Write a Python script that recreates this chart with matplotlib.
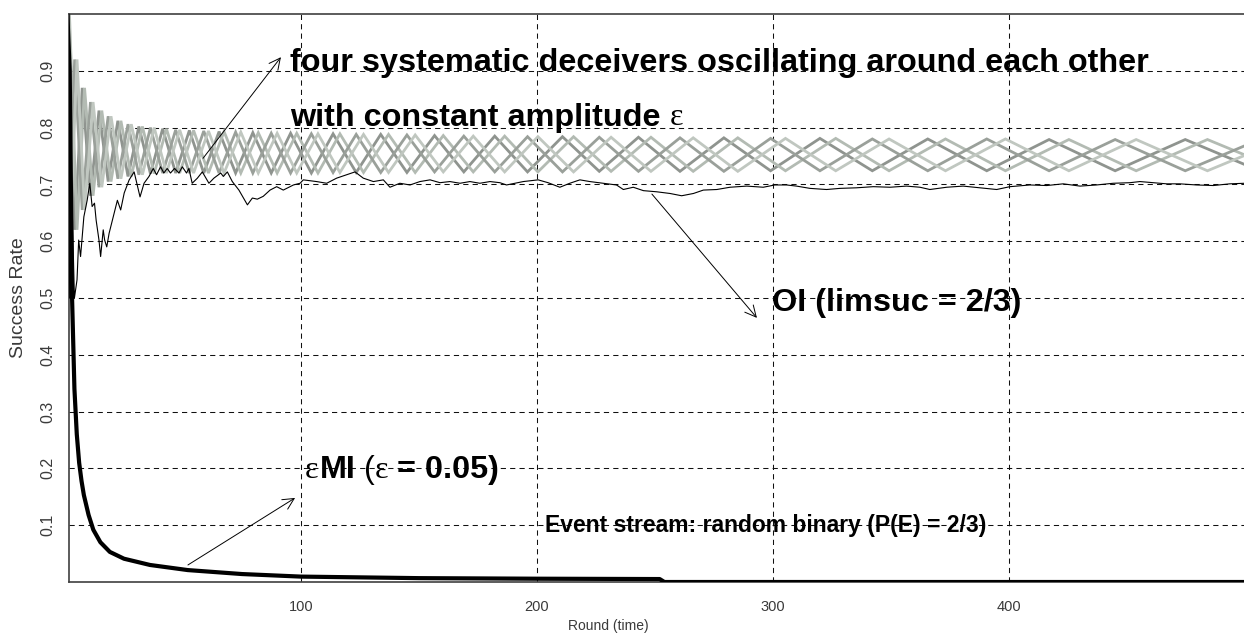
# Import required libraries
import matplotlib
matplotlib.use("Agg")
import matplotlib.pyplot as plt
from matplotlib import font_manager

# ------------------------------------------------------------
# Data
# ------------------------------------------------------------

# eMI (epsilon = 0.05): thick black curve
emi_rounds = [1, 2, 3, 4, 5, 6, 7, 8, 10, 12, 15, 19, 25, 36, 52, 75, 100,
              150, 200, 252, 254, 500]
emi_rate = [1.0, 0.9, 0.5, 0.34, 0.26, 0.21, 0.178, 0.153, 0.118, 0.092,
            0.07, 0.053, 0.041, 0.03, 0.021, 0.014, 0.0095, 0.0068, 0.0058,
            0.0052, 0.0, 0.0]

# OI (limsuc = 2/3): thin black curve
oi_rounds = [1, 2, 3, 4, 5.1, 5.8, 6.6, 8, 9.4, 10.5,
             11.5, 12.5, 13.2, 14.4, 15.1, 16.2, 16.8, 17.7, 18.7, 20.1,
             22.2, 23.6, 25.1, 27.2, 29.3, 31.8, 33.5, 35.6, 37.4, 38.8,
             40.5, 41.9, 43.3, 44.7, 46.4, 48.3, 49.7, 51.5, 52.5, 53.9,
             56.1, 58.2, 61, 63.1, 66, 67.1, 68.8, 70.9, 73.7, 77.3,
             79.4, 81.5, 84, 86.9, 89.7, 92.5, 96.8, 99.6, 101, 106.6,
             110.9, 115.1, 119.4, 122.9, 126.4, 130.7, 134.9, 137.7, 141.9, 146.2,
             150.4, 154.7, 158.9, 163.1, 167.4, 171.6, 175.8, 180.1, 184.3, 187.1,
             194.2, 200.5, 204.7, 209.7, 213.9, 218.2, 222.4, 228.1, 233.7, 236.6,
             240.8, 245.1, 250.7, 256.4, 261.3, 266.3, 270.5, 276.2, 281.8, 288.9,
             295.9, 300.8, 305.8, 310, 315.7, 322.7, 328.4, 335.4, 342.5, 349.6,
             356.6, 362.3, 366.5, 373.6, 380.6, 387.7, 394.8, 400.4, 408.9, 416,
             423, 430.1, 437.1, 444.2, 451.3, 455.5, 461.2, 466.8, 472.4, 479.5,
             486.6, 493.6, 500]
oi_rate = [1.0, 0.5, 0.667, 0.5, 0.532, 0.602, 0.573, 0.643, 0.672, 0.702,
           0.661, 0.667, 0.637, 0.602, 0.573, 0.620, 0.602, 0.590, 0.614, 0.637,
           0.672, 0.655, 0.685, 0.708, 0.722, 0.678, 0.702, 0.714, 0.728, 0.717,
           0.731, 0.720, 0.728, 0.720, 0.728, 0.720, 0.731, 0.720, 0.728, 0.702,
           0.711, 0.722, 0.702, 0.711, 0.720, 0.714, 0.722, 0.705, 0.690, 0.664,
           0.676, 0.674, 0.679, 0.690, 0.696, 0.690, 0.699, 0.702, 0.708, 0.705,
           0.702, 0.711, 0.717, 0.722, 0.711, 0.705, 0.708, 0.695, 0.702, 0.699,
           0.705, 0.708, 0.703, 0.705, 0.702, 0.705, 0.702, 0.705, 0.703, 0.699,
           0.705, 0.708, 0.703, 0.695, 0.702, 0.708, 0.705, 0.702, 0.699, 0.691,
           0.695, 0.689, 0.687, 0.684, 0.680, 0.684, 0.690, 0.691, 0.695, 0.697,
           0.695, 0.699, 0.699, 0.697, 0.693, 0.691, 0.693, 0.694, 0.696, 0.695,
           0.697, 0.695, 0.691, 0.695, 0.697, 0.694, 0.691, 0.696, 0.699, 0.698,
           0.701, 0.697, 0.699, 0.702, 0.703, 0.705, 0.703, 0.701, 0.701, 0.699,
           0.698, 0.701, 0.702]

# Systematic deceivers: rounds where they turn around
# (group 1 = deceivers A and C, group 2 = B and D, lagging a little)
dec_turns_1 = [1, 4.1, 7.3, 10.8, 14.4, 18.3, 22.4, 26.7, 31.3, 36.2,
               41.4, 46.9, 52.7, 58.8, 65.3, 72.3, 79.6, 87.4, 95.6, 104.4,
               113.6, 123.4, 133.8, 144.9, 156.6, 169.0, 182.1, 196.0, 210.8, 226.4,
               243.0, 260.6, 279.2, 299.0, 319.9, 342.1, 365.6, 390.6, 417.0, 445.0,
               474.7, 506.2]
dec_turns_2 = [1.9, 5.1, 8.3, 11.9, 15.6, 19.5, 23.7, 28.1, 32.8, 37.8,
               43.0, 48.6, 54.5, 60.8, 67.4, 74.5, 81.9, 89.9, 98.2, 107.2,
               116.5, 126.5, 137.1, 148.4, 160.3, 173.0, 186.3, 200.4, 215.5, 231.4,
               248.3, 266.2, 285.1, 305.3, 326.6, 349.2, 373.1, 398.5, 425.4, 453.9,
               484.1, 516.2]
# upper / lower turning levels of the band at each turn
dec_upper = [1.0, 0.92, 0.87, 0.845, 0.83, 0.82, 0.812, 0.806, 0.802, 0.80,
             0.798, 0.796, 0.795, 0.794, 0.793, 0.792, 0.791, 0.79, 0.79, 0.789,
             0.789, 0.788, 0.788, 0.787, 0.786, 0.785, 0.785, 0.784, 0.784, 0.783,
             0.783, 0.782, 0.782, 0.781, 0.781, 0.78, 0.78, 0.78, 0.779, 0.779,
             0.779, 0.779]
dec_lower = [0.58, 0.62, 0.655, 0.68, 0.695, 0.705, 0.71, 0.714, 0.717, 0.719,
             0.72, 0.72, 0.72, 0.72, 0.72, 0.72, 0.72, 0.72, 0.72, 0.72,
             0.721, 0.721, 0.721, 0.721, 0.722, 0.722, 0.722, 0.722, 0.722, 0.723,
             0.723, 0.723, 0.723, 0.724, 0.724, 0.724, 0.724, 0.724, 0.724, 0.724,
             0.724, 0.724]
dec_colors = ["#8f948f", "#b3bbb3", "#9aa09a", "#c0c7c0"]

x_ticks = [100, 200, 300, 400]
y_ticks = [0.1, 0.2, 0.3, 0.4, 0.5, 0.6, 0.7, 0.8, 0.9]

# ------------------------------------------------------------
# Fonts
# ------------------------------------------------------------
names = {f.name for f in font_manager.fontManager.ttflist}
has_narrow = "Liberation Sans Narrow" in names
narrow = "Liberation Sans Narrow" if has_narrow else "Liberation Sans"
sans = "Liberation Sans"
serif = "Liberation Serif"

# ------------------------------------------------------------
# Figure
# ------------------------------------------------------------
fig = plt.figure(figsize=(12.44, 6.38), dpi=100)
ax = fig.add_axes([69 / 1244, 56 / 638, 1175 / 1244, 568 / 638])

# four deceivers, each bouncing between the band levels
dec_lines = [
    (dec_turns_1, 0), (dec_turns_2, 0), (dec_turns_1, 1), (dec_turns_2, 1)
]
for (turns, start), color in zip(dec_lines, dec_colors):
    rate = [dec_upper[i] if (i + start) % 2 == 0 else dec_lower[i]
            for i in range(len(turns))]
    ax.plot(turns, rate, color=color, lw=2.0, solid_joinstyle="miter", zorder=2)

ax.plot(oi_rounds, oi_rate, color="black", lw=0.8, zorder=3)
ax.plot(emi_rounds, emi_rate, color="black", lw=3.0, zorder=4)

ax.set_xlim(1.7, 499.6)
ax.set_ylim(0, 1)

# grid and axes styling
ax.set_xticks(x_ticks)
ax.set_yticks(y_ticks)
ax.set_yticklabels([f"{v:.1f}" for v in y_ticks])
ax.grid(True, color="#111111", lw=0.75, linestyle=(0, (5, 4)))
ax.set_axisbelow(True)
ax.tick_params(axis="both", length=0, colors="#3a3a3a")
ax.tick_params(axis="x", pad=13, labelsize=13 if has_narrow else 10.5)
ax.tick_params(axis="y", pad=10, labelsize=11.5, labelrotation=90)
for lab in ax.get_xticklabels():
    lab.set_family(narrow)
for lab in ax.get_yticklabels():
    lab.set_family(sans)
    lab.set_va("center")
for side in ["left", "top", "bottom"]:
    ax.spines[side].set_color("#404040")
    ax.spines[side].set_linewidth(1.2)
ax.spines["right"].set_visible(False)

fig.text(19 / 1244, 1 - 298 / 638, "Success Rate", rotation=90, ha="center",
         va="center", fontsize=14, family=sans, color="#3a3a3a")
fig.text(608 / 1244, 1 - 626 / 638, "Round (time)", ha="center", va="center",
         fontsize=12 if has_narrow else 10, family=narrow, color="#3a3a3a")

# ------------------------------------------------------------
# Annotations
# ------------------------------------------------------------
renderer = fig.canvas.get_renderer()
bold = dict(family=sans, weight="bold", fontsize=23.3)
plain = dict(family=sans, fontsize=23)
greek = dict(family=serif, fontsize=23)


def put_pieces(x, y, pieces):
    # write text pieces one after another, each with its own font
    dx = 0
    for s, props, gap in pieces:
        t = ax.annotate(s, xy=(x, y), xycoords="data", xytext=(dx, 0),
                        textcoords="offset pixels", ha="left", va="center",
                        zorder=6, **props)
        dx += t.get_window_extent(renderer).width + gap


put_pieces(95.3, 0.914, [("four systematic deceivers oscillating around each other", bold, 0)])
put_pieces(95.3, 0.817, [("with constant amplitude", bold, 9), ("\u03b5", greek, 0)])
put_pieces(299.6, 0.491, [("OI (limsuc = 2/3)", bold, 0)])
put_pieces(101.7, 0.197, [("\u03b5", greek, 1), ("MI", bold, 9), ("(", plain, 0),
                          ("\u03b5", greek, 8), ("= 0.05)", bold, 0)])
ax.text(203.4, 0.100, "Event stream: random binary (P(E) = 2/3)", ha="left",
        va="center", family=narrow, weight="bold",
        fontsize=20 if has_narrow else 16.5, zorder=6)

arrow = dict(arrowstyle="->", lw=0.7, color="black", shrinkA=0, shrinkB=0,
             mutation_scale=20)
ax.annotate("", xy=(91.5, 0.924), xytext=(58.5, 0.746), arrowprops=arrow)
ax.annotate("", xy=(293.2, 0.465), xytext=(248.7, 0.683), arrowprops=arrow)
ax.annotate("", xy=(97.5, 0.148), xytext=(52.1, 0.030), arrowprops=arrow)

# Save the chart
plt.savefig("out.png", dpi=100)
